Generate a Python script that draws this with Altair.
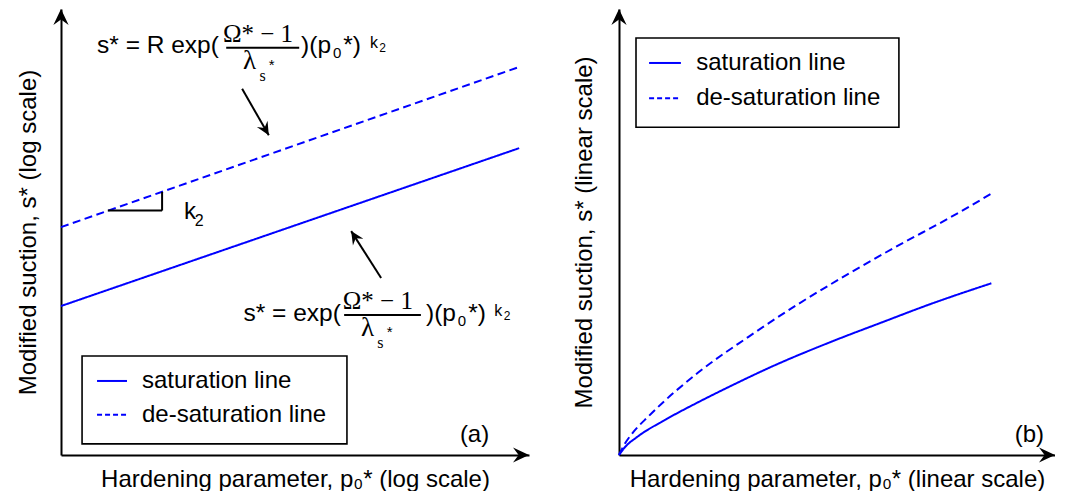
import altair as alt
import pandas as pd

BLUE = "#0000ff"
SANS = "Liberation Sans, Arial, Helvetica, sans-serif"
SERIF = "Liberation Serif, Times New Roman, serif"
ARROW = "M0,0 L-2,-0.95 L-1.3,0 L-2,0.95 Z"

# ---------------- data ----------------
series_names = ["saturation line", "de-saturation line"]

# panel (a): straight lines on log-log axes (axis units 0-100)
a_x = [0.0, 97.9]
a_sat_y = [33.4, 68.8]
a_desat_y = [51.1, 87.0]

# panel (b): curves on linear axes (axis units 0-100)
b_sat_x = [0, 1.5, 4.1, 10.8, 18.3, 25.9, 35.0, 48.7, 60.2, 71.6, 85.4]
b_sat_y = [0, 1.9, 4.0, 8.0, 11.9, 15.6, 19.8, 25.4, 29.7, 33.9, 38.5]
b_desat_x = [0, 1.2, 3.0, 6.9, 18.3, 29.7, 41.2, 52.6, 64.1, 75.5, 85.4]
b_desat_y = [0, 2.3, 4.8, 8.8, 18.6, 26.5, 33.9, 40.6, 47.0, 53.0, 58.6]

x_titles = ["Hardening parameter, p\u2080* (log scale)",
            "Hardening parameter, p\u2080* (linear scale)"]
y_titles = ["Modified suction, s* (log scale)",
            "Modified suction, s* (linear scale)"]
panel_tags = ["(a)", "(b)"]

# ---------------- annotation placements (axis units) ----------------
# sans text pieces of the two formulas and the k2 slope label (panel a)
fa_sans_t = ["s* = R exp(", ")(p", "0", "*)", "k", "2",
             "s* = exp(", ")(p", "0", "*)", "k", "2",
             "k", "2", "*", "*"]
fa_sans_x = [7.7, 51.3, 58.1, 60.3, 66.0, 68.0,
             39.0, 78.0, 84.8, 87.0, 92.6, 94.6,
             26.3, 28.6, 44.4, 69.6]
fa_sans_y = [90.1, 90.1, 89.0, 90.1, 91.3, 90.4,
             30.0, 30.0, 28.9, 30.0, 31.2, 30.3,
             52.9, 51.3, 86.4, 26.5]
fa_sans_fs = [24.5, 24.5, 15, 24.5, 16, 12,
              24.5, 24.5, 15, 24.5, 16, 12,
              24, 16, 15, 15]
# serif pieces: numerators (centered) and denominators (left)
fa_num_t = ["\u03a9* \u2212 1", "\u03a9* \u2212 1"]
fa_num_x = [42.1, 67.7]
fa_num_y = [92.6, 32.7]
fa_den_t = ["\u03bb", "s", "\u03bb", "s"]
fa_den_x = [38.9, 42.4, 64.1, 67.6]
fa_den_y = [86.5, 83.8, 26.6, 23.9]
fa_den_fs = [27, 16, 27, 16]
# black segments: fraction bars, arrow shafts, slope triangle
seg_x = [35.3, 60.5, 38.7, 68.4, 10.0, 21.6]
seg_y = [91.3, 31.4, 82.1, 39.7, 54.8, 54.8]
seg_x2 = [50.9, 76.9, 44.4, 62.0, 21.6, 21.6]
seg_y2 = [91.3, 31.4, 71.7, 50.2, 54.8, 59.0]
# arrow heads of annotation arrows
ah_x = [44.4, 62.0]
ah_y = [71.7, 50.2]
ah_ang = [59.6, 237.5]

# legend boxes [a, b]
leg_box = [(4.5, 2.5, 61.1, 22.2), (3.9, 73.5, 64.2, 93.5)]
leg_sw_x = [(7.7, 14.1), (6.9, 14.2)]
leg_row_y = [(16.6, 9.0), (87.9, 80.0)]
leg_txt_x = [17.3, 17.7]
tag_x = [91.5, 97.5]
tag_y = [2.9, 2.9]


def panel(i, width, height, line_df, ytp):
    xs = alt.Scale(domain=[0, 100], nice=False, zero=False)
    ys = alt.Scale(domain=[0, 100], nice=False, zero=False)
    common = dict(labels=False, ticks=False, grid=False, domainColor="black",
                  domainWidth=2, titleFont=SANS, titleFontSize=24,
                  titleFontWeight="normal", titleColor="black")

    def X(f="x"):
        return alt.X(f"{f}:Q", scale=xs,
                     axis=alt.Axis(title=x_titles[i], titlePadding=12, **common))

    def Y(f="y"):
        return alt.Y(f"{f}:Q", scale=ys,
                     axis=alt.Axis(title=y_titles[i], titlePadding=ytp, **common))

    layers = []
    # legend box
    bx0, by0, bx1, by1 = leg_box[i]
    box = pd.DataFrame({"x": [bx0], "y": [by0], "x2": [bx1], "y2": [by1]})
    layers.append(alt.Chart(box).mark_rect(fill="white", stroke="black", strokeWidth=1.6)
                  .encode(x=X(), y=Y(), x2="x2:Q", y2="y2:Q"))
    # legend swatches
    sx0, sx1 = leg_sw_x[i]
    r0, r1 = leg_row_y[i]
    sw_solid = pd.DataFrame({"x": [sx0], "x2": [sx1], "y": [r0]})
    sw_dash = pd.DataFrame({"x": [sx0], "x2": [sx1], "y": [r1]})
    layers.append(alt.Chart(sw_solid).mark_rule(color=BLUE, strokeWidth=2)
                  .encode(x=X(), y=Y(), x2="x2:Q"))
    layers.append(alt.Chart(sw_dash).mark_rule(color=BLUE, strokeWidth=2, strokeDash=[5, 3])
                  .encode(x=X(), y=Y(), x2="x2:Q"))
    leg_txt = pd.DataFrame({"x": [leg_txt_x[i]] * 2, "y": [r0, r1], "t": series_names})
    layers.append(alt.Chart(leg_txt).mark_text(font=SANS, fontSize=24, align="left",
                                               baseline="middle", color="black")
                  .encode(x=X(), y=Y(), text="t:N"))
    # data lines
    layers.append(alt.Chart(line_df).mark_line(color=BLUE, strokeWidth=2,
                                               interpolate="monotone").encode(
        x=X(), y=Y(),
        strokeDash=alt.StrokeDash("series:N",
                                  scale=alt.Scale(domain=series_names, range=[[1, 0], [8, 4.5]]),
                                  legend=None)))
    # panel tag
    tag = pd.DataFrame({"x": [tag_x[i]], "y": [tag_y[i]], "t": [panel_tags[i]]})
    layers.append(alt.Chart(tag).mark_text(font=SANS, fontSize=24, align="right",
                                           baseline="alphabetic", color="black")
                  .encode(x=X(), y=Y(), text="t:N"))
    # axis arrow heads
    heads = pd.DataFrame({"x": [100, 0], "y": [0, 100], "a": [0, 270]})
    layers.append(alt.Chart(heads).mark_point(shape=ARROW, filled=True, color="black",
                                              size=256, opacity=1)
                  .encode(x=X(), y=Y(), angle=alt.Angle("a:Q", scale=None)))

    if i == 0:
        segs = pd.DataFrame({"x": seg_x, "y": seg_y, "x2": seg_x2, "y2": seg_y2})
        layers.append(alt.Chart(segs).mark_rule(color="black", strokeWidth=2)
                      .encode(x=X(), y=Y(), x2="x2:Q", y2="y2:Q"))
        ah = pd.DataFrame({"x": ah_x, "y": ah_y, "a": ah_ang})
        layers.append(alt.Chart(ah).mark_point(shape=ARROW, filled=True, color="black",
                                               size=170, opacity=1)
                      .encode(x=X(), y=Y(), angle=alt.Angle("a:Q", scale=None)))
        st = pd.DataFrame({"x": fa_sans_x, "y": fa_sans_y, "t": fa_sans_t, "fs": fa_sans_fs})
        layers.append(alt.Chart(st).mark_text(font=SANS, align="left", baseline="alphabetic",
                                              color="black")
                      .encode(x=X(), y=Y(), text="t:N", size=alt.Size("fs:Q", scale=None)))
        nt = pd.DataFrame({"x": fa_num_x, "y": fa_num_y, "t": fa_num_t})
        layers.append(alt.Chart(nt).mark_text(font=SERIF, fontSize=25, align="center",
                                              baseline="alphabetic", color="black")
                      .encode(x=X(), y=Y(), text="t:N"))
        dt = pd.DataFrame({"x": fa_den_x, "y": fa_den_y, "t": fa_den_t, "fs": fa_den_fs})
        layers.append(alt.Chart(dt).mark_text(font=SERIF, align="left", baseline="alphabetic",
                                              color="black")
                      .encode(x=X(), y=Y(), text="t:N", size=alt.Size("fs:Q", scale=None)))

    return alt.layer(*layers).properties(width=width, height=height)


a_df = pd.DataFrame({
    "x": a_x + a_x,
    "y": a_sat_y + a_desat_y,
    "series": [series_names[0]] * 2 + [series_names[1]] * 2,
})
b_df = pd.DataFrame({
    "x": b_sat_x + b_desat_x,
    "y": b_sat_y + b_desat_y,
    "series": [series_names[0]] * len(b_sat_x) + [series_names[1]] * len(b_desat_x),
})

left = panel(0, 468, 446, a_df, 21)
right = panel(1, 436, 446, b_df, 23)

chart = alt.hconcat(left, right, spacing=90, bounds="flush",
                    padding={"left": 8, "top": 1, "right": 0, "bottom": 0}
                    ).configure_view(stroke=None)

chart.save("out.html", embed_options={"renderer": "svg", "actions": False})
